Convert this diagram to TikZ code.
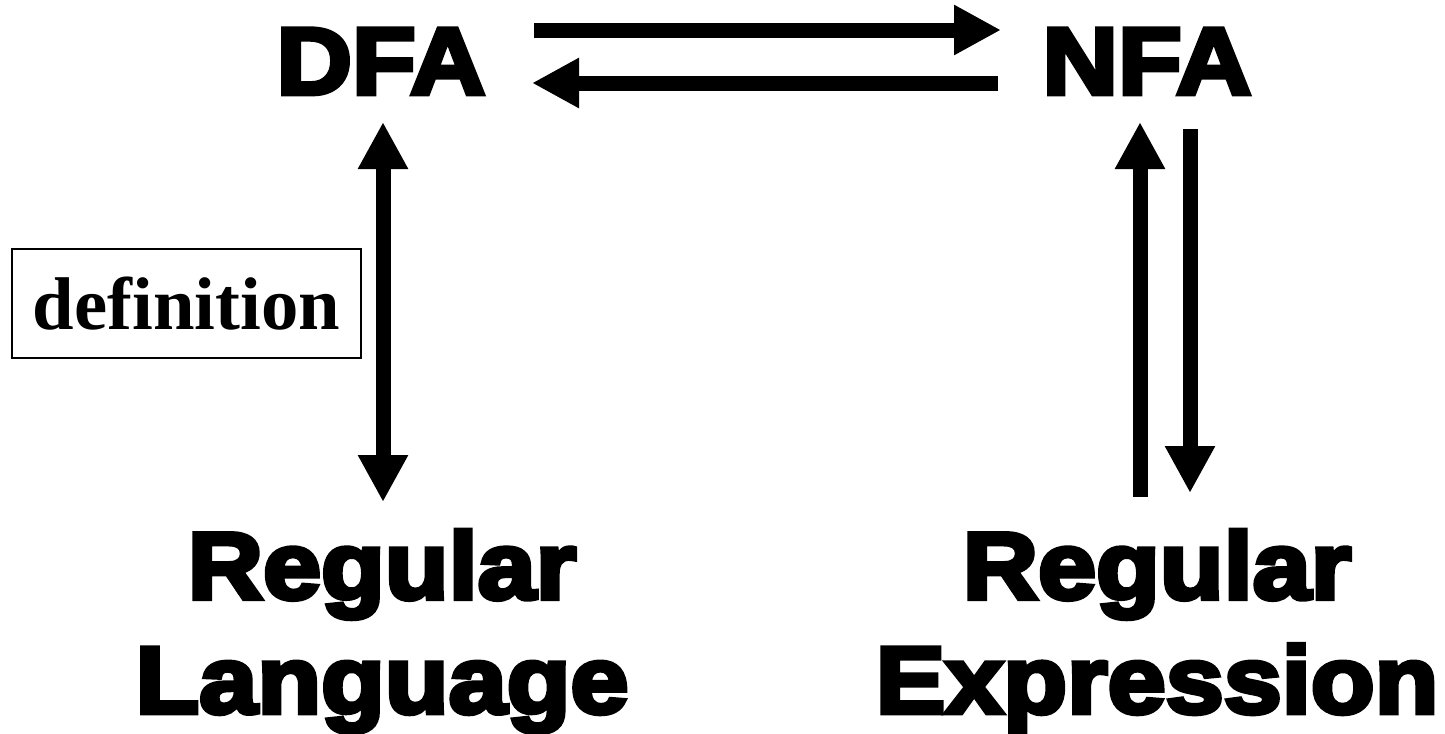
\documentclass[tikz,border=0pt]{standalone}
\usepackage{fontspec}
\setmainfont{Liberation Serif}
\newfontfamily\heavy{Liberation Sans}[BoldFeatures={FakeBold=5,FakeStretch=1.1}]
\usetikzlibrary{arrows.meta}

\begin{document}
\begin{tikzpicture}[
        big/.style={font=\heavy\bfseries\fontsize{54}{65}\selectfont,anchor=base,align=center},
        fat/.style={line width=.3cm,-{Triangle[width=.94cm,length=.94cm]}},
        fatboth/.style={line width=.3cm,{Triangle[width=.94cm,length=.94cm]}-{Triangle[width=.94cm,length=.94cm]}}
        ]
        \useasboundingbox (0,0) rectangle (28.9,-14.66);
        \node[big] (dfa) at (7.62,-1.88) {DFA};
        \node[big] (nfa) at (22.94,-1.88) {NFA};
        % two-line nodes sit on the baseline of their last line
        \node[big] (reglang) at (7.64,-14.26) {Regular\\Language};
        \node[big] (regexp) at (23.14,-14.26) {Regular\\Expression};
        \node[draw,line width=.75pt,minimum width=6.98cm,minimum height=2.18cm,inner sep=0pt,
                font=\bfseries\fontsize{42.5}{50}\selectfont] (defbox) at (3.73,-6.07) {definition};
        % ends of the fat arrows
        \coordinate (dfa-r) at (10.68,-.6);
        \coordinate (nfa-l) at (20.02,-.6);
        \coordinate (nfa-b) at (19.96,-1.66);
        \coordinate (dfa-b) at (10.64,-1.66);
        \coordinate (dfa-s) at (7.66,-2.44);
        \coordinate (lang-n) at (7.66,-10.04);
        \coordinate (exp-n) at (22.8,-9.94);
        \coordinate (nfa-s) at (22.8,-2.44);
        \coordinate (nfa-s2) at (23.8,-2.58);
        \coordinate (exp-n2) at (23.8,-9.86);
        \draw[fat] (dfa-r) -- (nfa-l);
        \draw[fat] (nfa-b) -- (dfa-b);
        \draw[fatboth] (dfa-s) -- (lang-n);
        \draw[fat] (exp-n) -- (nfa-s);
        \draw[fat] (nfa-s2) -- (exp-n2);
\end{tikzpicture}
\end{document}
